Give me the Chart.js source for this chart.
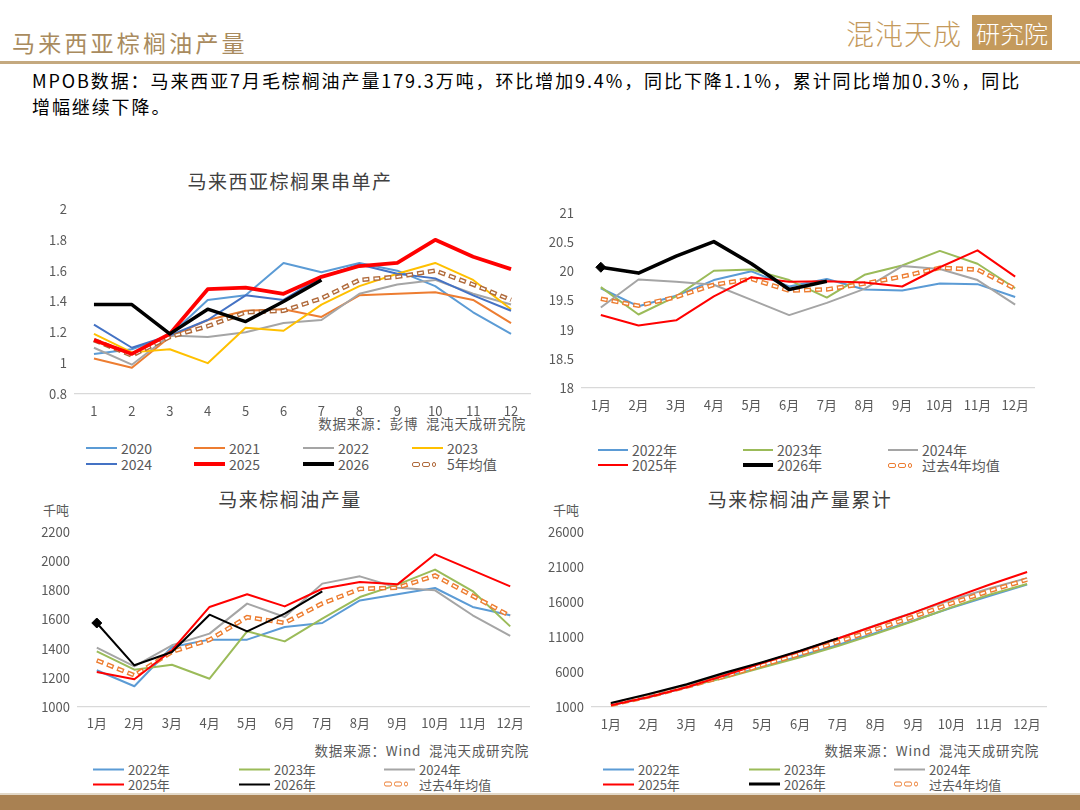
<!DOCTYPE html>
<html><head><meta charset="utf-8">
<script src="https://cdn.jsdelivr.net/npm/chart.js@4.4.1/dist/chart.umd.min.js"></script>
<style>
html,body{margin:0;padding:0;background:#fff;}
body{width:1080px;height:810px;position:relative;overflow:hidden;font-family:"Noto Sans CJK SC","Noto Sans",sans-serif;}
.abs{position:absolute;white-space:nowrap;}
canvas{position:absolute;}
.title{font-size:19px;color:#404040;letter-spacing:1.5px;transform:translate(-50%,-50%);}
.src{font-size:13.5px;color:#595959;letter-spacing:0.8px;transform:translate(-100%,-50%);}
.unit{font-size:13px;color:#595959;transform:translateY(-50%);}
.leg{font-size:13.5px;color:#595959;transform:translateY(-50%);display:flex;align-items:center;}
.leg .sym{display:inline-block;width:31px;margin-right:4px;position:relative;height:6px;}
</style></head>
<body>
<!-- header -->
<div class="abs" style="left:12px;top:42px;transform:translateY(-50%);font-size:23px;letter-spacing:3.2px;color:#A98B5E;">马来西亚棕榈油产量</div>
<div class="abs" style="left:846px;top:33px;transform:translateY(-50%);font-size:28px;font-weight:300;letter-spacing:1px;color:#C49A5C;">混沌天成</div>
<div class="abs" style="left:972px;top:15px;width:80px;height:35px;background:#C49A5C;color:#fff;font-size:24px;font-weight:300;line-height:35px;text-align:center;">研究院</div>
<div class="abs" style="left:0;top:61px;width:1080px;height:3px;background:#C4A97F;"></div>
<div class="abs" style="left:32px;top:67px;font-size:18px;letter-spacing:1.9px;line-height:26px;color:#000;">MPOB数据：马来西亚7月毛棕榈油产量179.3万吨，环比增加9.4%，同比下降1.1%，累计同比增加0.3%，同比<br>增幅继续下降。</div>
<div class="abs" style="left:0;top:793px;width:1080px;height:2px;background:#E2D8C8;"></div>
<div class="abs" style="left:0;top:795px;width:1080px;height:15px;background:#A98152;"></div>

<!-- titles & notes -->
<div class="abs title" style="left:290px;top:180px;">马来西亚棕榈果串单产</div>
<div class="abs title" style="left:290px;top:498px;">马来棕榈油产量</div>
<div class="abs title" style="left:800px;top:498px;">马来棕榈油产量累计</div>
<div class="abs src" style="left:526px;top:423px;">数据来源：彭博&nbsp;&nbsp;混沌天成研究院</div>
<div class="abs src" style="left:529px;top:750px;">数据来源：Wind&nbsp;&nbsp;混沌天成研究院</div>
<div class="abs src" style="left:1039px;top:750px;">数据来源：Wind&nbsp;&nbsp;混沌天成研究院</div>
<div class="abs unit" style="left:43px;top:509px;">千吨</div>
<div class="abs unit" style="left:553px;top:509px;">千吨</div>

<canvas id="c1" width="515" height="230" style="left:20px;top:190px;width:515px;height:230px;"></canvas>
<canvas id="c2" width="500" height="225" style="left:540px;top:195px;width:500px;height:225px;"></canvas>
<canvas id="c3" width="515" height="225" style="left:20px;top:515px;width:515px;height:225px;"></canvas>
<canvas id="c4" width="510" height="225" style="left:540px;top:515px;width:510px;height:225px;"></canvas>
<div id="legends"></div>

<script>
// ---------- categories ----------
const monthNums = ['1','2','3','4','5','6','7','8','9','10','11','12'];
const monthLabels = ['1月','2月','3月','4月','5月','6月','7月','8月','9月','10月','11月','12月'];

// ---------- chart 1: 马来西亚棕榈果串单产 ----------
const yield2020 = [1.06,1.09,1.18,1.41,1.44,1.65,1.59,1.65,1.60,1.50,1.33,1.19];
const yield2021 = [1.03,0.97,1.17,1.28,1.34,1.35,1.30,1.44,1.45,1.46,1.41,1.26];
const yield2022 = [1.10,0.99,1.18,1.17,1.20,1.26,1.28,1.45,1.51,1.54,1.45,1.38];
const yield2023 = [1.19,1.07,1.09,1.00,1.23,1.21,1.38,1.50,1.58,1.65,1.54,1.35];
const yield2024 = [1.25,1.10,1.18,1.28,1.44,1.41,1.56,1.64,1.58,1.55,1.44,1.34];
const yield2025 = [1.15,1.06,1.19,1.48,1.49,1.45,1.56,1.63,1.65,1.80,1.69,1.61];
const yield2026 = [1.38,1.38,1.19,1.35,1.27,1.40,1.54];
const yieldAvg5 = [1.15,1.05,1.17,1.24,1.33,1.34,1.42,1.54,1.56,1.60,1.51,1.41];

// ---------- chart 2: 出油率 ----------
const oer2022 = [19.71,19.40,19.58,19.85,20.00,19.74,19.87,19.69,19.67,19.79,19.78,19.56];
const oer2023 = [19.73,19.26,19.57,20.01,20.03,19.85,19.55,19.94,20.10,20.35,20.13,19.71];
const oer2024 = [19.38,19.86,19.82,19.77,19.51,19.25,19.46,19.70,20.09,20.04,19.85,19.43];
const oer2025 = [19.25,19.07,19.16,19.57,19.90,19.82,19.83,19.81,19.74,20.07,20.36,19.91];
const oer2026 = [20.07,19.97,20.26,20.51,20.13,19.69,19.83];
const oerAvg4 = [19.53,19.41,19.56,19.77,19.87,19.67,19.69,19.79,19.91,20.06,20.03,19.70];

// ---------- chart 3: 马来棕榈油产量 (千吨) ----------
const prod2022 = [1252,1142,1411,1462,1462,1549,1576,1731,1773,1816,1686,1629];
const prod2023 = [1382,1256,1290,1194,1519,1450,1606,1754,1839,1942,1795,1553];
const prod2024 = [1407,1279,1423,1503,1709,1617,1846,1896,1818,1800,1629,1487];
const prod2025 = [1240,1190,1389,1686,1773,1690,1811,1857,1841,2047,1937,1827];
const prod2026 = [1576,1286,1377,1633,1519,1640,1793];
const prodAvg4 = [1320,1217,1378,1461,1616,1577,1710,1810,1818,1901,1762,1624];

// ---------- chart 4: 马来棕榈油产量累计 (千吨) ----------
const cum2022 = [1252,2394,3805,5267,6729,8278,9854,11585,13358,15174,16860,18489];
const cum2023 = [1382,2638,3928,5122,6641,8091,9697,11451,13290,15232,17027,18580];
const cum2024 = [1407,2686,4109,5612,7321,8938,10784,12680,14498,16298,17927,19414];
const cum2025 = [1240,2430,3819,5505,7278,8968,10779,12636,14477,16524,18461,20288];
const cum2026 = [1576,2862,4239,5872,7391,9031,10824];
const cumAvg4 = [1320,2537,3915,5377,6992,8569,10279,12088,13906,15807,17569,19193];

// ---------- tick labels ----------
const yTicks1 = {min:0.8, max:2, step:0.2};
const yTicks2 = {min:18, max:21, step:0.5};
const yTicks3 = {min:1000, max:2200, step:200};
const yTicks4 = {min:1000, max:26000, step:5000};

const FONT = '"Noto Sans CJK SC","Noto Sans",sans-serif';
const C = {c2020:'#5B9BD5', c2021:'#ED7D31', gray:'#A5A5A5', yellow:'#FFC000', c2024:'#4472C4',
  red:'#FF0000', black:'#000000', brown:'#B06A3B', blue:'#5B9BD5', green:'#9BBB59', orange:'#ED7D31'};

function solid(label, data, color, width, marker){
  const ds = {label, data, borderColor:color, backgroundColor:color, borderWidth:width,
    pointRadius:0, pointHoverRadius:0, fill:false, tension:0, borderJoinStyle:'round'};
  if (marker){
    ds.pointStyle = 'rectRot';
    ds.pointRadius = data.map((v,i)=> i===0 ? 5 : 0);
    ds.pointBackgroundColor = color; ds.pointBorderColor = color; ds.pointBorderWidth = 1;
  }
  return ds;
}
function avgPair(label, data, color){
  return [
    {label:label, isInner:true, data, borderColor:'#FFFFFF', borderWidth:1.7, borderDash:[4.5,6.5], borderDashOffset:-1.2, borderCapStyle:'butt', pointRadius:0, fill:false, tension:0},
    {label:label, data, borderColor:color, borderWidth:4.6, borderDash:[7,4], borderCapStyle:'butt', pointRadius:0, fill:false, tension:0}
  ];
}

function build(id, labels, datasets, yt, geo){
  new Chart(document.getElementById(id), {
    type:'line',
    data:{labels, datasets},
    options:{
      responsive:false, animation:false, devicePixelRatio:1,
      layout:{padding:{top:geo.pt, right:geo.pr, left:0, bottom:0}},
      plugins:{legend:{display:false}, tooltip:{enabled:false}, title:{display:false}},
      scales:{
        x:{offset:true,
          grid:{display:false, drawTicks:false},
          border:{display:true, color:'#D9D9D9', width:1.3},
          ticks:{color:'#595959', font:{family:FONT, size:13}, padding:geo.xp, maxRotation:0, autoSkip:false},
          afterFit(s){ s.height = geo.xh; }
        },
        y:{min:yt.min, max:yt.max,
          grid:{display:false, drawTicks:false},
          border:{display:false},
          ticks:{stepSize:yt.step, color:'#595959', font:{family:FONT, size:13}, padding:8,
            callback:(v)=> String(+Number(v).toFixed(2))},
          afterFit(s){ s.width = geo.yw; }
        }
      }
    }
  });
}

// datasets (index 0 drawn on top)
const ds1 = [
  solid('2026', yield2026, C.black, 3.5),
  solid('2025', yield2025, C.red, 3.8),
  ...avgPair('5年均值', yieldAvg5, C.brown),
  solid('2024', yield2024, C.c2024, 2),
  solid('2023', yield2023, C.yellow, 2),
  solid('2022', yield2022, C.gray, 2),
  solid('2021', yield2021, C.c2021, 2),
  solid('2020', yield2020, C.c2020, 2)
];
const ds2 = [
  solid('2026年', oer2026, C.black, 3.6, true),
  solid('2025年', oer2025, C.red, 2),
  ...avgPair('过去4年均值', oerAvg4, C.orange),
  solid('2024年', oer2024, C.gray, 2),
  solid('2023年', oer2023, C.green, 2),
  solid('2022年', oer2022, C.blue, 2)
];
const ds3 = [
  solid('2026年', prod2026, C.black, 2, true),
  solid('2025年', prod2025, C.red, 2),
  ...avgPair('过去4年均值', prodAvg4, C.orange),
  solid('2024年', prod2024, C.gray, 2),
  solid('2023年', prod2023, C.green, 2),
  solid('2022年', prod2022, C.blue, 2)
];
const ds4 = [
  solid('2026年', cum2026, C.black, 2.2),
  solid('2025年', cum2025, C.red, 2),
  ...avgPair('过去4年均值', cumAvg4, C.orange),
  solid('2024年', cum2024, C.gray, 2),
  solid('2023年', cum2023, C.green, 2),
  solid('2022年', cum2022, C.blue, 2)
];

build('c1', monthNums, ds1, yTicks1, {pt:19, pr:5, yw:55, xh:26, xp:9});
build('c2', monthLabels, ds2, yTicks2, {pt:18, pr:5, yw:42, xh:32, xp:9});
build('c3', monthLabels, ds3, yTicks3, {pt:17, pr:3, yw:58, xh:33, xp:8});
build('c4', monthLabels, ds4, yTicks4, {pt:17, pr:4, yw:52, xh:33, xp:9});

// ---------- HTML legends built from the datasets ----------
function legend(datasets, order, cols, rows, symW, fontSize){
  const host = document.getElementById('legends');
  const items = order.map(lbl => datasets.find(d => d.label===lbl && !d.isInner));
  items.forEach((d, i) => {
    const x = cols[i % cols.length], y = rows[Math.floor(i / cols.length)];
    const el = document.createElement('div');
    el.className = 'abs leg';
    el.style.left = x + 'px'; el.style.top = y + 'px'; el.style.fontSize = fontSize + 'px';
    const sym = document.createElement('span');
    sym.className = 'sym'; sym.style.width = symW + 'px';
    if (d.borderDash){
      sym.style.display = 'inline-flex'; sym.style.alignItems = 'center';
      [9,9,5].forEach(w => {
        const b = document.createElement('span');
        b.style.cssText = `display:inline-block;width:${w-3}px;height:3px;border:1.5px solid ${d.borderColor};border-radius:2px;margin-right:2px;`;
        sym.appendChild(b);
      });
    } else {
      const line = document.createElement('span');
      const h = Math.min(d.borderWidth, 4.5);
      line.style.cssText = `position:absolute;left:0;right:0;top:${3-h/2}px;height:${h}px;background:${d.borderColor};`;
      sym.appendChild(line);
    }
    el.appendChild(sym);
    el.appendChild(document.createTextNode(d.label));
    host.appendChild(el);
  });
}
legend(ds1, ['2020','2021','2022','2023','2024','2025','2026','5年均值'], [86,194,303,412], [448,464], 31, 14);
legend(ds2, ['2022年','2023年','2024年','2025年','2026年','过去4年均值'], [598,743,888], [450,465], 30, 14);
legend(ds3, ['2022年','2023年','2024年','2025年','2026年','过去4年均值'], [93,239,384], [769,784], 31, 13);
legend(ds4, ['2022年','2023年','2024年','2025年','2026年','过去4年均值'], [603,749,894], [769,784], 31, 13);
</script>
</body></html>
